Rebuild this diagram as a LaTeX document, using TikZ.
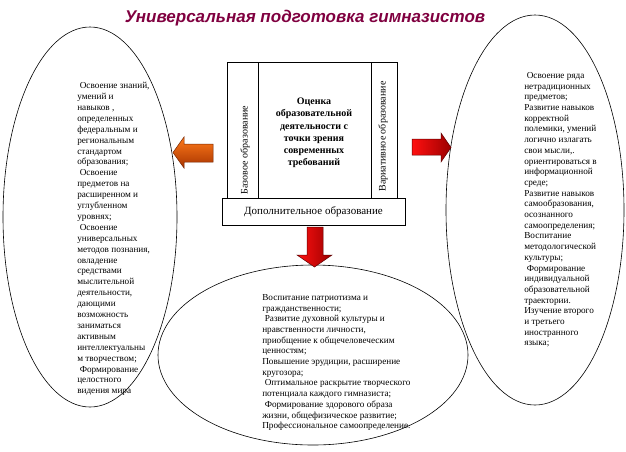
\documentclass[tikz,border=0pt]{standalone}
\usepackage{fontspec}
\setmainfont{Liberation Serif}
\newfontfamily\titlefont{Liberation Sans}
\usetikzlibrary{shapes.geometric}
\definecolor{titlecol}{HTML}{800040}
\definecolor{orgdark}{HTML}{A83400}
\definecolor{orglight}{HTML}{FF7A1A}
\definecolor{reddark}{HTML}{9C0000}
\definecolor{redlight}{HTML}{FF1010}
\newcommand\lsp{\hspace*{2.5pt}}
\tikzset{
  oval/.style={ellipse, draw, inner sep=0pt},
  body/.style={font=\fontsize{9.2}{10.9}\selectfont, align=left, inner sep=0pt, anchor=north west},
  colbox/.style={draw, inner sep=0pt},
  vtext/.style={rotate=90, font=\fontsize{10}{11}\selectfont, inner sep=0pt},
  orangearrow/.style={draw=orgdark!70!black, line width=0.5pt, top color=orglight, bottom color=orgdark},
  redarrow/.style={draw=reddark!60!black, line width=0.5pt, left color=redlight, right color=reddark}
}
\begin{document}
\begin{tikzpicture}[x=1pt,y=-1pt,line width=0.6pt]
\useasboundingbox[fill=white] (0,0) rectangle (626,451);

% title
\node[font=\titlefont\bfseries\itshape\fontsize{17}{20}\selectfont, text=titlecol] (title) at (305,18) {Универсальная подготовка гимназистов};

% ellipses
\node[oval, minimum width=174pt, minimum height=380pt] (L) at (90,217) {};
\node[oval, minimum width=178pt, minimum height=390pt] (R) at (535,210) {};
\node[oval, minimum width=310pt, minimum height=180pt] (B) at (313,355) {};

% centre boxes
\node[colbox, minimum width=31pt, minimum height=136pt] (cl) at (242.5,130) {};
\node[colbox, minimum width=113pt, minimum height=136pt] (cm) at (314.5,130) {};
\node[colbox, minimum width=26pt, minimum height=136pt] (cr) at (384,130) {};
\node[colbox, minimum width=183pt, minimum height=27pt, font=\fontsize{11}{13}\selectfont] (dop) at (313.5,211.5) {Дополнительное образование};

\node[vtext] (base) at (245,150) {Базовое образование};
\node[vtext] (var) at (383,136.5) {Вариативное образование};
\node[font=\bfseries\fontsize{10}{12.2}\selectfont, align=center, inner sep=0pt] (eval) at (314,133) {Оценка\\образовательной\\деятельности с\\точки зрения\\современных\\требований};

% arrows
\path[orangearrow] (173,152.5) -- (184,137) -- (184,144) -- (213,144) -- (213,162) -- (184,162) -- (184,168) -- cycle;
\path[redarrow] (451,147.5) -- (441,133) -- (441,139) -- (412,139) -- (412,155) -- (441,155) -- (441,162) -- cycle;
\path[redarrow] (314.5,267) -- (297,255) -- (307,255) -- (307,227) -- (323,227) -- (323,255) -- (332,255) -- cycle;

% texts
\node[body] (lt) at (77,82) {\lsp Освоение знаний,\\умений и\\навыков ,\\определенных\\федеральным и\\региональным\\стандартом\\образования;\\\lsp Освоение\\предметов на\\расширенном и\\углубленном\\уровнях;\\\lsp Освоение\\универсальных\\методов познания,\\овладение\\средствами\\мыслительной\\деятельности,\\дающими\\возможность\\заниматься\\активным\\интеллектуальны\\м творчеством;\\\lsp Формирование\\целостного\\видения мира};

\node[body, font=\fontsize{9.2}{10.7}\selectfont] (rt) at (524,72) {\lsp Освоение ряда\\нетрадиционных\\предметов;\\Развитие навыков\\корректной\\полемики, умений\\логично излагать\\свои мысли,.\\ориентироваться в\\информационной\\среде;\\Развитие навыков\\самообразования,\\осознанного\\самоопределения;\\Воспитание\\методологической\\культуры;\\\lsp Формирование\\индивидуальной\\образовательной\\траектории.\\Изучение второго\\и третьего\\иностранного\\языка;};

\node[body, font=\fontsize{9.2}{10.7}\selectfont] (bt) at (262,294) {Воспитание патриотизма и\\гражданственности;\\\lsp Развитие духовной культуры и\\нравственности личности,\\приобщение к общечеловеческим\\ценностям;\\Повышение эрудиции, расширение\\кругозора;\\\lsp Оптимальное раскрытие творческого\\потенциала каждого гимназиста;\\\lsp Формирование здорового образа\\жизни, общефизическое развитие;\\Профессиональное самоопределение.};
\end{tikzpicture}
\end{document}
